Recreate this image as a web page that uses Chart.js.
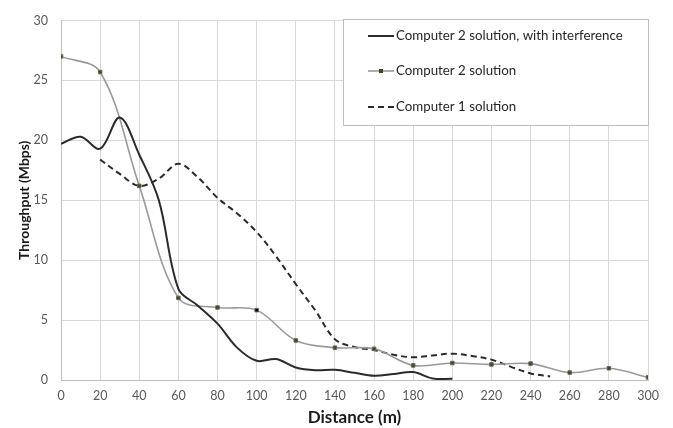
<!DOCTYPE html>
<html>
<head>
<meta charset="utf-8">
<script src="https://cdn.jsdelivr.net/npm/chart.js@4.4.0/dist/chart.umd.min.js"></script>
<style>
  html, body { margin: 0; padding: 0; background: #fff; }
  #wrap { width: 673px; height: 428px; }
</style>
</head>
<body>
<div id="wrap"><canvas id="chart" width="673" height="428"></canvas></div>
<script>
// Computer 2 solution, with interference (no markers)
const distInterf = [0, 10, 20, 30, 40, 50, 60, 70, 80, 90, 100, 110, 120, 130, 140, 150, 160, 170, 180, 190, 200];
const tputInterf = [19.7, 20.3, 19.3, 21.9, 18.8, 15.0, 7.6, 6.2, 4.7, 2.7, 1.6, 1.75, 1.05, 0.82, 0.85, 0.6, 0.35, 0.5, 0.66, 0.12, 0.1];

// Computer 2 solution (markers)
const distC2 = [0, 20, 40, 60, 80, 100, 120, 140, 160, 180, 200, 220, 240, 260, 280, 300];
const tputC2 = [27.0, 25.7, 16.2, 6.85, 6.05, 5.83, 3.3, 2.7, 2.6, 1.22, 1.42, 1.3, 1.37, 0.62, 0.98, 0.22];

// Computer 1 solution (dashed)
const distC1 = [20, 30, 40, 50, 60, 70, 80, 90, 100, 110, 120, 130, 140, 150, 160, 170, 180, 190, 200, 210, 220, 230, 240, 250];
const tputC1 = [18.4, 17.2, 16.2, 16.8, 18.05, 16.9, 15.2, 13.9, 12.35, 10.3, 8.0, 5.8, 3.4, 2.75, 2.5, 2.1, 1.9, 2.05, 2.2, 2.0, 1.7, 1.1, 0.55, 0.3];

const labels = ["Computer 2 solution, with interference", "Computer 2 solution", "Computer 1 solution"];

function pts(xs, ys) {
    return xs.map((x, i) => ({ x: x, y: ys[i] }));
}

const FONT = "Lato, 'Open Sans', sans-serif";

// legend drawn inside the plot, like the original
const boxLegend = {
    id: "boxLegend",
    afterDraw(chart) {
        const c = chart.ctx;
        const x0 = 343, y0 = 19, w = 305, h = 106;
        c.save();
        c.fillStyle = "#fff";
        c.fillRect(x0, y0, w, h);
        c.strokeStyle = "#bfbfbf";
        c.lineWidth = 1;
        c.strokeRect(x0 + 0.5, y0 + 0.5, w, h);
        const rows = [36, 71, 107];
        chart.data.datasets.forEach((ds, i) => {
            const y = rows[i];
            c.beginPath();
            c.strokeStyle = ds.borderColor;
            c.lineWidth = ds.borderWidth;
            c.setLineDash(ds.borderDash || []);
            c.moveTo(368, y);
            c.lineTo(394, y);
            c.stroke();
            c.setLineDash([]);
            if (ds.pointRadius > 0) {
                c.fillStyle = "#3b4a1c";
                c.fillRect(379, y - 2, 4, 4);
            }
            c.fillStyle = "#262626";
            c.font = "13.3px " + FONT;
            c.textBaseline = "middle";
            c.fillText(ds.label, 396, y);
        });
        c.restore();
    }
};

const ctx = document.getElementById("chart").getContext("2d");

const myChart = new Chart(ctx, {
    type: "line",
    data: {
        datasets: [{
            label: labels[0],
            data: pts(distInterf, tputInterf),
            borderColor: "#2b2b2b",
            borderWidth: 2,
            pointRadius: 0,
            tension: 0.35,
            fill: false,
        }, {
            label: labels[1],
            data: pts(distC2, tputC2),
            borderColor: "#9a9a9a",
            borderWidth: 1.6,
            pointStyle: "rect",
            pointRadius: 2.5,
            pointBorderWidth: 1,
            pointBorderColor: "#6b6b5a",
            pointBackgroundColor: (c) => c.dataIndex === 5 ? "#000" : "#3b4a1c",
            tension: 0.35,
            fill: false,
        }, {
            label: labels[2],
            data: pts(distC1, tputC1),
            borderColor: "#2b2b2b",
            borderWidth: 2,
            borderDash: [6, 4],
            pointRadius: 0,
            tension: 0.35,
            fill: false,
        }],
    },
    options: {
        responsive: false,
        animation: false,
        layout: { padding: { top: 17, right: 25, left: 14, bottom: 0 } },
        plugins: {
            legend: { display: false },
            tooltip: { enabled: false },
        },
        scales: {
            x: {
                type: "linear",
                min: 0,
                max: 300,
                afterFit: (s) => { s.height = 48; },
                ticks: {
                    stepSize: 20,
                    color: "#595959",
                    font: { family: FONT, size: 12.5 },
                    padding: 8,
                },
                grid: { color: "#d9d9d9", drawTicks: false },
                border: { color: "#bfbfbf" },
                title: {
                    display: true,
                    text: "Distance (m)",
                    color: "#1a1a1a",
                    font: { family: FONT, size: 17, weight: "bold" },
                    padding: { top: 0, bottom: 0 },
                },
            },
            y: {
                min: 0,
                max: 30,
                afterFit: (s) => { s.width = 47; },
                ticks: {
                    stepSize: 5,
                    color: "#595959",
                    font: { family: FONT, size: 12.5 },
                    padding: 13,
                },
                grid: { color: "#d9d9d9", drawTicks: false },
                border: { color: "#bfbfbf" },
                title: {
                    display: true,
                    text: "Throughput (Mbps)",
                    color: "#1a1a1a",
                    font: { family: FONT, size: 14, weight: "bold" },
                    padding: { top: 2, bottom: 4 },
                },
            },
        },
    },
    plugins: [boxLegend],
});
</script>
</body>
</html>
